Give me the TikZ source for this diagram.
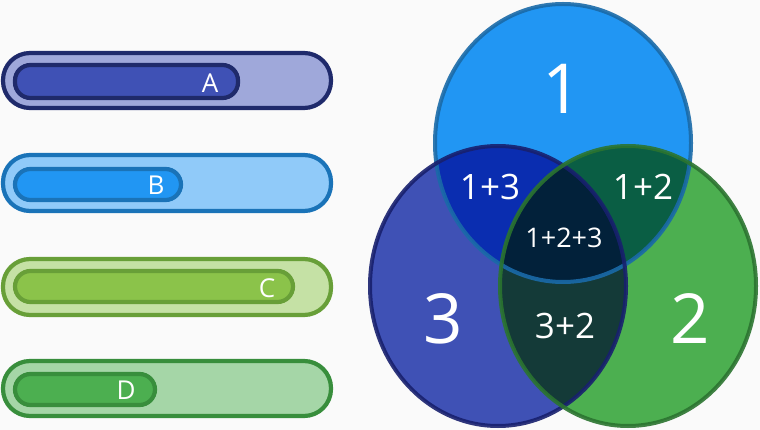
\documentclass[tikz,border=0pt]{standalone}
\usepackage{fontspec}
\setmainfont{Open Sans}
\definecolor{bgc}{HTML}{FAFAFA}
\definecolor{aLine}{HTML}{1F2A6B}
\definecolor{aOut}{HTML}{9FA8DA}
\definecolor{aIn}{HTML}{3F51B5}
\definecolor{bLine}{HTML}{1A73B8}
\definecolor{bOut}{HTML}{90CAF9}
\definecolor{bIn}{HTML}{2196F3}
\definecolor{cLine}{HTML}{689F38}
\definecolor{cOut}{HTML}{C5E1A5}
\definecolor{cIn}{HTML}{8BC34A}
\definecolor{dLine}{HTML}{388E3C}
\definecolor{dOut}{HTML}{A5D6A7}
\definecolor{dIn}{HTML}{4CAF50}
\definecolor{oneF}{HTML}{2196F3}
\definecolor{oneL}{HTML}{1A6AA8}
\definecolor{threeF}{HTML}{3F51B5}
\definecolor{threeL}{HTML}{18206E}
\definecolor{twoF}{HTML}{4CAF50}
\definecolor{twoL}{HTML}{2B7430}
\definecolor{ot}{HTML}{0A2DB0}
\definecolor{otw}{HTML}{0A5E44}
\definecolor{tt}{HTML}{143A38}
\definecolor{all}{HTML}{02213A}
\tikzset{
  barout/.style={line width=4.2pt, rounded corners=27pt},
  barin/.style={line width=4.2pt, rounded corners=15.5pt},
  lab/.style={text=white, inner sep=0pt, font=\fontsize{26}{26}\selectfont},
  big/.style={text=white, inner sep=0pt, font=\fontsize{69}{69}\selectfont},
  mid/.style={text=white, inner sep=0pt, font=\fontsize{35}{35}\selectfont},
  sml/.style={text=white, inner sep=0pt, font=\fontsize{27}{27}\selectfont},
  ring/.style={line width=4pt, draw opacity=0.9}
}
\begin{document}
\begin{tikzpicture}[x=1pt,y=-1pt]
\fill[bgc] (0,0) rectangle (760,430);
\useasboundingbox (0,0) rectangle (760,430);
% bars
\draw[barout, draw=aLine, fill=aOut] (3,53) rectangle (331,108);
\draw[barin, draw=aLine, fill=aIn] (15,65) rectangle (238,98);
\node[lab] (A) at (210,83) {A};
\draw[barout, draw=bLine, fill=bOut] (3,155) rectangle (331,211);
\draw[barin, draw=bLine, fill=bIn] (15,169) rectangle (181,200);
\node[lab] (B) at (156,185) {B};
\draw[barout, draw=cLine, fill=cOut] (3,259) rectangle (331,315);
\draw[barin, draw=cLine, fill=cIn] (15,271) rectangle (293,302);
\node[lab] (C) at (267,288) {C};
\draw[barout, draw=dLine, fill=dOut] (3,361) rectangle (331,416);
\draw[barin, draw=dLine, fill=dIn] (15,374) rectangle (155,405);
\node[lab] (D) at (126,390) {D};
% venn
\def\cone{(563,143) ellipse [x radius=128, y radius=139]}
\def\cthree{(498,286) ellipse [x radius=128, y radius=140]}
\def\ctwo{(628,286) ellipse [x radius=128, y radius=140]}
\fill[oneF] \cone;
\fill[threeF] \cthree;
\fill[twoF] \ctwo;
\begin{scope}
  \clip \cone;
  \fill[ot] \cthree;
  \fill[otw] \ctwo;
\end{scope}
\begin{scope}
  \clip \cthree;
  \fill[tt] \ctwo;
  \clip \cone;
  \fill[all] \ctwo;
\end{scope}
\draw[ring, draw=oneL] \cone;
\draw[ring, draw=threeL] \cthree;
\draw[ring, draw=twoL] \ctwo;
\node[big] (n1) at (562,89) {1};
\node[big] (n3) at (443,319) {3};
\node[big] (n2) at (690,319) {2};
\node[mid] (n13) at (490,187) {1+3};
\node[mid] (n12) at (643,187) {1+2};
\node[sml] (n123) at (564,238) {1+2+3};
\node[mid] (n32) at (565,326) {3+2};
\end{tikzpicture}
\end{document}
